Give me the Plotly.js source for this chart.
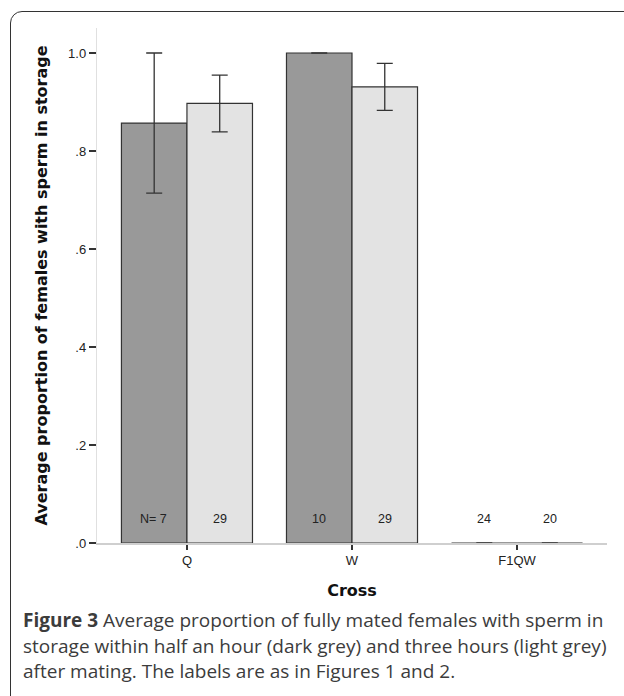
<!DOCTYPE html>
<html>
<head>
<meta charset="utf-8">
<script src="https://cdn.plot.ly/plotly-3.0.1.min.js"></script>
<style>
  html, body { margin:0; padding:0; width:624px; height:696px; overflow:hidden; background:#fff; }
  #frame { position:absolute; left:10px; top:11px; width:680px; height:720px;
           border:1.5px solid #333; border-radius:12px; box-sizing:border-box; }
  #chart { position:absolute; left:0; top:0; width:624px; height:696px; }
</style>
</head>
<body>
<div id="frame"></div>
<div id="chart"></div>
<script>
var crosses = ["Q", "W", "F1QW"];
var halfHour = [0.857, 1.0, 0.0];
var halfHourErr = [0.143, 0.0, 0.0];
var threeHours = [0.897, 0.931, 0.0];
var threeHoursErr = [0.058, 0.048, 0.0];
var nHalfHour = ["N= 7", "10", "24"];
var nThreeHours = ["29", "29", "20"];
var nLabelY = 0.05;
var yTickVals = [0, 0.2, 0.4, 0.6, 0.8, 1.0];
var yTickText = [".0", ".2", ".4", ".6", ".8", "1.0"];
var captionBold = "Figure 3";
var captionLines = [
  " Average proportion of fully mated females with sperm in",
  "storage within half an hour (dark grey) and three hours (light grey)",
  "after mating. The labels are as in Figures 1 and 2."
];

var errStyle = {type: "data", symmetric: true, color: "#333", thickness: 1.3, width: 8};

var traces = [
  {type: "bar", x: crosses, y: halfHour, name: "half an hour",
   marker: {color: "#999999", line: {color: "#333", width: 1.2}},
   error_y: Object.assign({array: halfHourErr}, errStyle), hoverinfo: "none"},
  {type: "bar", x: crosses, y: threeHours, name: "three hours",
   marker: {color: "#e3e3e3", line: {color: "#333", width: 1.2}},
   error_y: Object.assign({array: threeHoursErr}, errStyle), hoverinfo: "none"}
];

var numFont = {family: "Liberation Sans, Arial, sans-serif", size: 12.5, color: "#222"};
var annotations = [];
var barPx = 33;
crosses.forEach(function (c, i) {
  annotations.push({x: c, y: nLabelY, xref: "x", yref: "y", text: nHalfHour[i],
    showarrow: false, xshift: -barPx, font: numFont});
  annotations.push({x: c, y: nLabelY, xref: "x", yref: "y", text: nThreeHours[i],
    showarrow: false, xshift: barPx, font: numFont});
});

var capFont = {family: "Open Sans, sans-serif", size: 19, color: "#3c3c3c"};
var capY0 = 620, capStep = 25.5;
captionLines.forEach(function (line, i) {
  var py = capY0 + i * capStep;
  annotations.push({xref: "paper", yref: "paper", x: (21 - 97) / 510, y: (543 - py) / 515,
    xanchor: "left", yanchor: "middle", showarrow: false, align: "left",
    text: (i === 0 ? "<b>" + captionBold + "</b>" : "") + line, font: capFont});
});

var layout = {
  width: 624, height: 696,
  margin: {l: 97, r: 17, t: 28, b: 153},
  paper_bgcolor: "rgba(0,0,0,0)", plot_bgcolor: "rgba(0,0,0,0)",
  barmode: "group", bargap: 0.206, bargroupgap: 0,
  showlegend: false,
  xaxis: {
    type: "category", range: [-0.545, 2.545],
    showline: true, linecolor: "#cfcfcf", linewidth: 1.5,
    ticks: "outside", ticklen: 5, tickcolor: "#333", tickwidth: 1.3,
    tickfont: {family: "Liberation Sans, Arial, sans-serif", size: 13, color: "#222"},
    showgrid: false, zeroline: false,
    title: {text: "<b>Cross</b>", standoff: 17, font: {family: "DejaVu Sans, sans-serif", size: 16, color: "#111"}}
  },
  yaxis: {
    range: [0, 1.051],
    tickvals: yTickVals, ticktext: yTickText,
    showline: true, linecolor: "#e0e0e0", linewidth: 1.2,
    ticks: "outside", ticklen: 7, tickcolor: "#333", tickwidth: 1.3,
    tickfont: {family: "Liberation Sans, Arial, sans-serif", size: 13, color: "#222"},
    showgrid: false, zeroline: false,
    title: {text: "<b>Average proportion of females with sperm in storage</b>", standoff: 16,
            font: {family: "DejaVu Sans, sans-serif", size: 16, color: "#111"}}
  },
  annotations: annotations
};

Plotly.newPlot("chart", traces, layout, {displayModeBar: false, staticPlot: true});
</script>
</body>
</html>
